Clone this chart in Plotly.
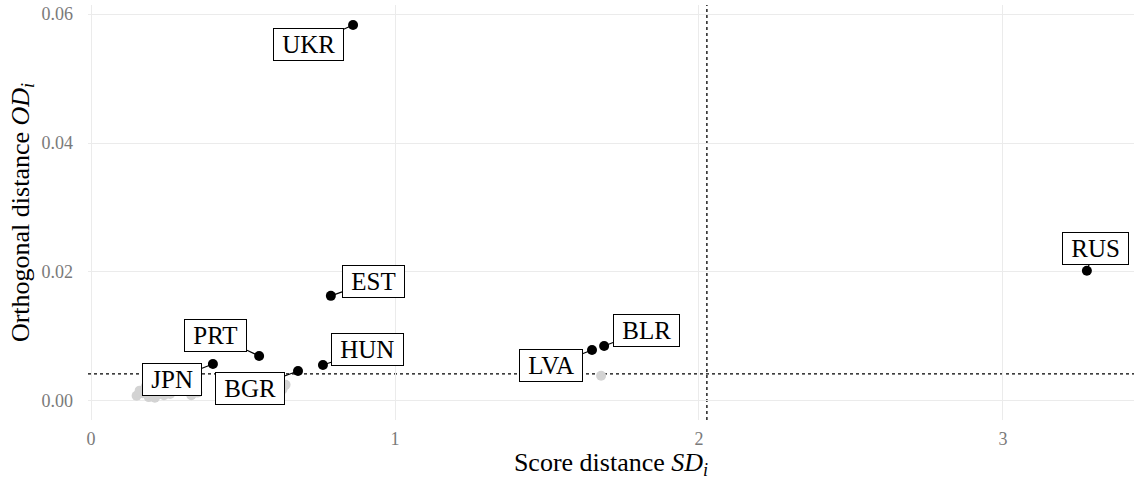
import plotly.graph_objects as go

# Flagged (outlying) countries
countries = ["UKR", "RUS", "EST", "PRT", "JPN", "BGR", "HUN", "LVA", "BLR"]
score_dist = [0.862, 3.276, 0.789, 0.553, 0.401, 0.681, 0.763, 1.648, 1.688]
orth_dist = [0.0583, 0.0202, 0.0163, 0.00698, 0.00574, 0.00465, 0.00558, 0.0079, 0.00853]

# Regular (non-flagged) observations
reg_score = [0.15, 0.17, 0.19, 0.20, 0.22, 0.18, 0.24, 0.21, 0.16, 0.33, 0.35, 0.32,
             0.64, 0.63, 0.26, 0.28, 1.678]
reg_orth = [0.0008, 0.0012, 0.0006, 0.0015, 0.0010, 0.0022, 0.0009, 0.0005, 0.0016,
            0.0009, 0.0013, 0.0016, 0.0025, 0.0018, 0.0011, 0.0020, 0.0039]

# Cutoffs
sd_cutoff = 2.026
od_cutoff = 0.00419

# Label placements (data units) for repelled labels
label_x = [0.714, 3.303, 0.928, 0.411, 0.266, 0.523, 0.911, 1.513, 1.826]
label_y = [0.0552, 0.0237, 0.0186, 0.01008, 0.00326, 0.00186, 0.00791, 0.00543, 0.0110]

FONT = "Liberation Serif"

fig = go.Figure()
fig.add_trace(go.Scatter(x=reg_score, y=reg_orth, mode="markers",
                         marker=dict(color="#d3d3d3", size=10), hoverinfo="skip",
                         showlegend=False))
fig.add_trace(go.Scatter(x=score_dist, y=orth_dist, mode="markers",
                         marker=dict(color="black", size=10), text=countries,
                         showlegend=False))

fig.add_shape(type="line", xref="x", yref="paper", x0=sd_cutoff, x1=sd_cutoff, y0=0, y1=1,
              line=dict(color="black", width=1.3, dash="dot"), layer="below")
fig.add_shape(type="line", xref="paper", yref="y", x0=0, x1=1, y0=od_cutoff, y1=od_cutoff,
              line=dict(color="black", width=1.3, dash="dot"), layer="below")

for c, px, py, lx, ly in zip(countries, score_dist, orth_dist, label_x, label_y):
    fig.add_annotation(x=px, y=py, ax=lx, ay=ly, axref="x", ayref="y", xref="x", yref="y",
                       text="\u00a0" + c + "\u00a0", showarrow=True, arrowhead=0,
                       arrowwidth=1.2, arrowcolor="black",
                       standoff=0, startstandoff=0,
                       font=dict(family=FONT, size=25, color="black"),
                       bgcolor="white", bordercolor="black", borderwidth=1, borderpad=2)

fig.update_layout(
    width=1134, height=480,
    margin=dict(l=88, r=0, t=5, b=60, autoexpand=False),
    paper_bgcolor="white", plot_bgcolor="white",
    font=dict(family=FONT),
    xaxis=dict(range=[-0.0099, 3.431], tickvals=[0, 1, 2, 3], ticktext=["0", "1", "2", "3"],
               showgrid=True, gridcolor="#ebebeb", gridwidth=1, zeroline=False,
               showline=False, ticks="", ticklabelstandoff=6, automargin=False,
               tickfont=dict(family=FONT, size=18, color="#7a7a7a"),
               title=dict(text="Score distance <i>SD</i><sub><i>i</i></sub>",
                          font=dict(family=FONT, size=26, color="black"), standoff=2)),
    yaxis=dict(range=[-0.00295, 0.0614], tickvals=[0, 0.02, 0.04, 0.06],
               ticktext=["0.00", "0.02", "0.04", "0.06"],
               showgrid=True, gridcolor="#ebebeb", gridwidth=1, zeroline=False,
               showline=False, ticks="", ticklabelstandoff=14, automargin=False,
               tickfont=dict(family=FONT, size=18, color="#7a7a7a"),
               title=dict(text="Orthogonal distance <i>OD</i><sub><i>i</i></sub>",
                          font=dict(family=FONT, size=26, color="black"), standoff=4)),
)

fig.write_html("out.html", config={"displayModeBar": False},
               post_script="document.body.style.margin='0';")
